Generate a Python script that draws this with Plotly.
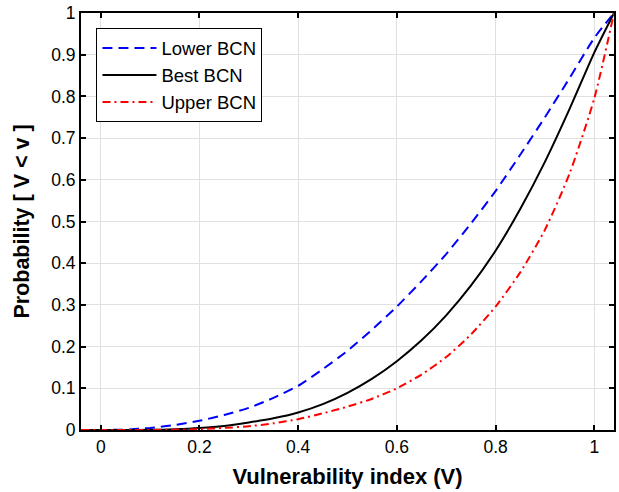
import plotly.graph_objects as go

# Data
x_vals = [-0.04, 0.0, 0.05, 0.1, 0.15, 0.2, 0.25, 0.3, 0.35, 0.4, 0.45, 0.5, 0.55,
          0.6, 0.65, 0.7, 0.75, 0.8, 0.85, 0.9, 0.95, 1.0, 1.04]
lower_bcn = [0.0, 0.0, 0.001, 0.005, 0.012, 0.022, 0.036, 0.053, 0.077, 0.106, 0.146, 0.19, 0.241,
             0.296, 0.357, 0.422, 0.495, 0.573, 0.66, 0.75, 0.844, 0.94, 1.0]
best_bcn = [0.0, 0.0, 0.0, 0.0003, 0.0016, 0.0045, 0.0095, 0.018, 0.028, 0.042, 0.062, 0.089, 0.123,
            0.165, 0.215, 0.275, 0.346, 0.43, 0.53, 0.643, 0.77, 0.905, 1.0]
upper_bcn = [0.0, 0.0, 0.0, 0.0002, 0.0008, 0.002, 0.005, 0.009, 0.016, 0.026, 0.04, 0.056, 0.075,
             0.1, 0.133, 0.175, 0.229, 0.296, 0.378, 0.48, 0.615, 0.795, 1.0]

x_ticks = [0, 0.2, 0.4, 0.6, 0.8, 1]
x_tick_labels = ["0", "0.2", "0.4", "0.6", "0.8", "1"]
y_ticks = [0, 0.1, 0.2, 0.3, 0.4, 0.5, 0.6, 0.7, 0.8, 0.9, 1]
y_tick_labels = ["0", "0.1", "0.2", "0.3", "0.4", "0.5", "0.6", "0.7", "0.8", "0.9", "1"]

FONT = "Liberation Sans, Arial, Helvetica, sans-serif"

fig = go.Figure()
fig.add_trace(go.Scatter(x=x_vals, y=lower_bcn, mode="lines", name="Lower BCN",
                         line=dict(color="#0000ff", width=2, dash="10px,6px", shape="spline", smoothing=0.6)))
fig.add_trace(go.Scatter(x=x_vals, y=best_bcn, mode="lines", name="Best BCN",
                         line=dict(color="#000000", width=2, shape="spline", smoothing=0.6)))
fig.add_trace(go.Scatter(x=x_vals, y=upper_bcn, mode="lines", name="Upper BCN",
                         line=dict(color="#ff0000", width=2, dash="8px,4px,2px,4px", shape="spline", smoothing=0.6)))

axis_common = dict(
    showgrid=True, gridcolor="#e0e0e0", gridwidth=1,
    showline=True, linecolor="black", linewidth=2, mirror="ticks",
    ticks="inside", ticklen=5, tickwidth=1.5, tickcolor="black",
    zeroline=False,
    tickfont=dict(family=FONT, size=17.5, color="black"),
)

fig.update_layout(
    width=619, height=492,
    margin=dict(l=81, r=3, t=13, b=62),
    paper_bgcolor="white", plot_bgcolor="white",
    font=dict(family=FONT, color="black"),
    xaxis=dict(range=[-0.04, 1.04], tickvals=x_ticks, ticktext=x_tick_labels,
               title=dict(text="<b>Vulnerability index (V)</b>", font=dict(size=22, family=FONT), standoff=13),
               **axis_common),
    yaxis=dict(range=[0, 1], tickvals=y_ticks, ticktext=y_tick_labels,
               title=dict(text="<b>Probability [ V < v ]</b>", font=dict(size=21.5, family=FONT), standoff=16),
               **axis_common),
    legend=dict(x=0.029, y=0.963, xanchor="left", yanchor="top",
                bgcolor="white", bordercolor="black", borderwidth=1,
                font=dict(family=FONT, size=18.5, color="black"),
                itemwidth=54, tracegroupgap=0),
    showlegend=True,
)

fig.write_html("out.html")
